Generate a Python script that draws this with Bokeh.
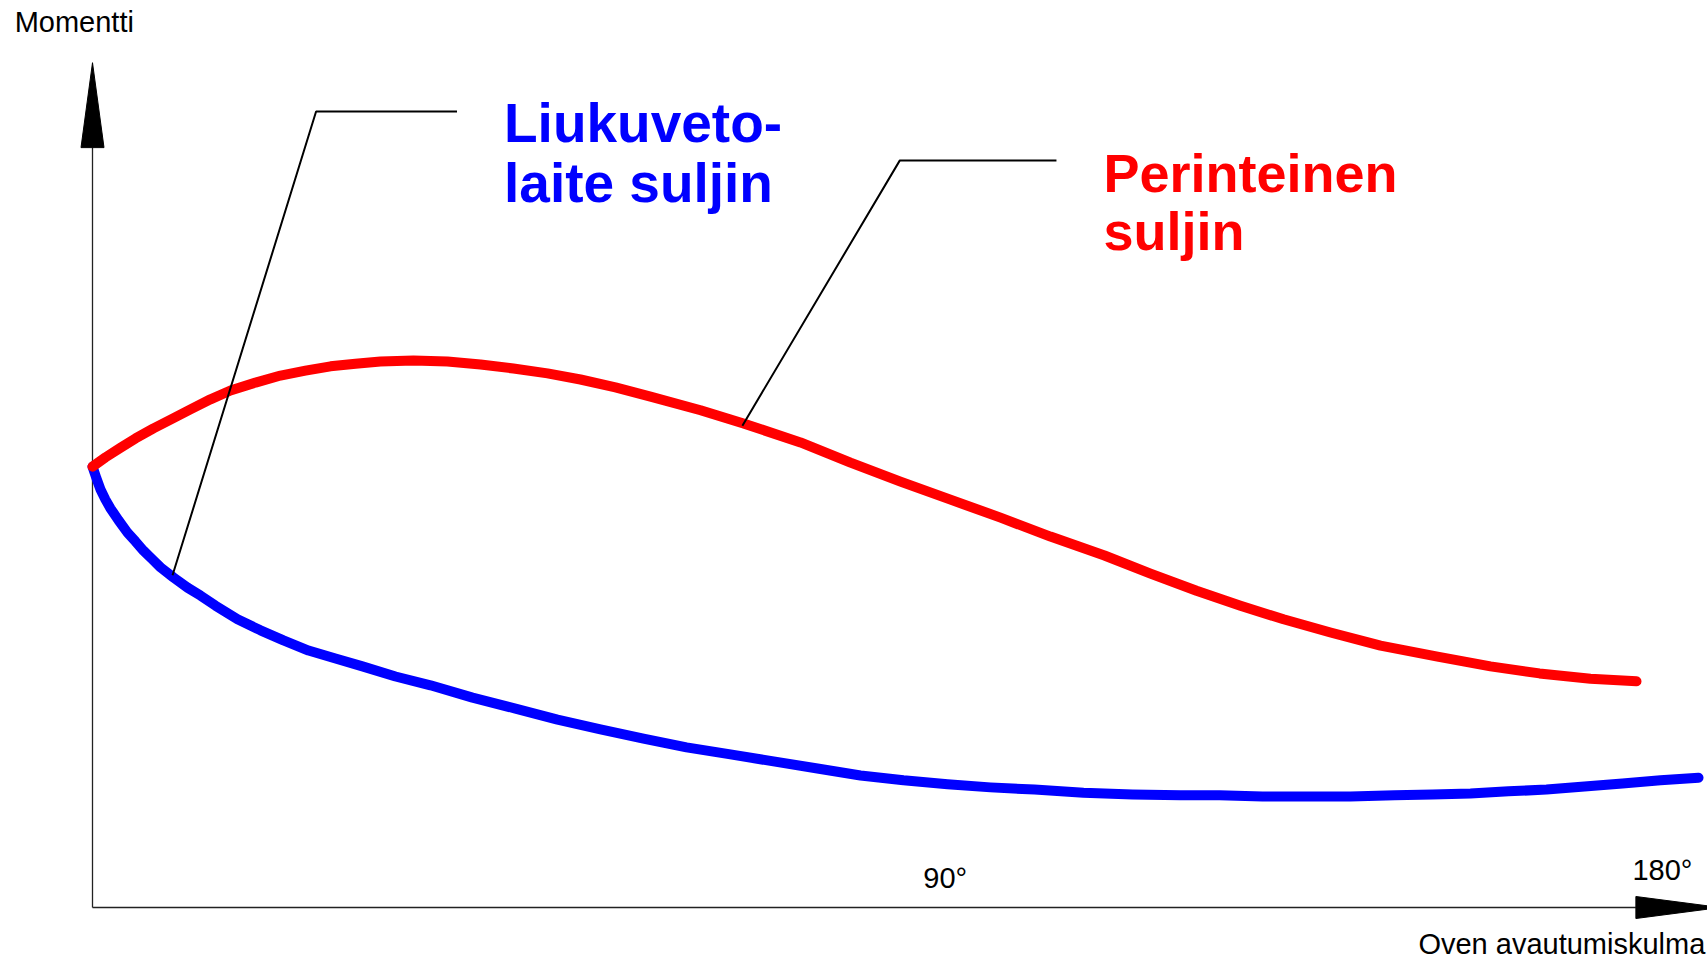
from bokeh.plotting import figure
from bokeh.models import Range1d
from bokeh.core.properties import value
from bokeh.embed import file_html
from bokeh.resources import INLINE

# --- data (x: opening angle in degrees, y: moment, arbitrary units) ---
red_angle = [0.0, 1.49, 3.22, 4.94, 7.01, 9.20, 11.26, 13.56, 15.86, 18.74, 21.61, 24.48,
             27.36, 30.23, 33.10, 36.90, 40.80, 44.60, 48.39, 52.30, 56.09, 60.11, 64.14,
             69.89, 74.83, 81.38, 87.13, 92.87, 98.62, 104.37, 110.11, 116.32, 121.61,
             126.90, 131.95, 136.90, 142.30, 148.05, 154.60, 160.69, 166.32, 172.18,
             177.47]
red_moment = [100.2, 102.3, 104.5, 106.6, 108.9, 111.1, 113.2, 115.5, 117.5, 119.3, 120.9,
              122.0, 123.0, 123.6, 124.1, 124.3, 124.1, 123.4, 122.5, 121.4, 120.0, 118.2,
              116.1, 113.0, 110.0, 105.7, 101.1, 96.8, 92.7, 88.6, 84.3, 80.0, 75.9, 72.0,
              68.6, 65.5, 62.5, 59.5, 57.0, 54.8, 53.2, 52.0, 51.4]

blue_angle = [0.0, 0.46, 0.92, 1.49, 2.07, 2.99, 4.02, 4.94, 5.86, 6.90, 7.82, 9.31, 10.92,
              12.41, 14.14, 16.67, 19.31, 21.95, 24.83, 27.93, 31.03, 34.83, 38.85, 43.68,
              48.62, 53.45, 58.39, 63.33, 68.28, 73.33, 78.28, 83.33, 88.28, 93.22, 98.28,
              103.22, 108.28, 113.91, 119.54, 125.06, 129.54, 134.48, 139.54, 144.60,
              149.66, 154.02, 158.39, 162.76, 167.13, 171.49, 175.86, 180.23, 184.60]
blue_moment = [100.2, 97.5, 95.0, 92.7, 90.7, 88.0, 85.2, 83.2, 81.1, 79.1, 77.3, 75.0,
               72.7, 70.9, 68.6, 65.5, 63.0, 60.7, 58.4, 56.6, 54.8, 52.5, 50.5, 47.7,
               45.2, 42.7, 40.5, 38.4, 36.4, 34.8, 33.2, 31.6, 30.0, 28.9, 28.0, 27.3,
               26.8, 26.1, 25.7, 25.5, 25.5, 25.2, 25.2, 25.2, 25.5, 25.7, 25.9, 26.4,
               26.8, 27.5, 28.2, 28.9, 29.5]

tick_labels = ["90°", "180°"]
tick_x = [95.5, 177.0]
tick_y = [6.8, 8.5]

y_axis_title = "Momentti"
x_axis_title = "Oven avautumiskulma"
blue_label = ["Liukuveto-", "laite suljin"]
red_label = ["Perinteinen", "suljin"]

# leader lines (from curve point to label)
blue_leader_x = [9.2, 25.7, 41.9]
blue_leader_y = [75.5, 180.9, 180.9]
red_leader_x = [74.7, 92.8, 110.8]
red_leader_y = [109.5, 169.8, 169.8]

# --- figure ---
PX_X = 8.7   # pixels per degree
PX_Y = 4.4   # pixels per moment unit
W, H = 1707, 960
x0 = -92 / PX_X
y1 = 907 / PX_Y

p = figure(width=W, height=H, output_backend="svg", toolbar_location=None,
           x_range=Range1d(x0, x0 + W / PX_X), y_range=Range1d(y1 - H / PX_Y, y1),
           x_axis_location=None, y_axis_location=None, min_border=0)
p.grid.visible = False
p.outline_line_color = None
p.background_fill_color = "white"
p.border_fill_color = "white"

FONT = value("Liberation Sans")

# axes with arrow heads
x_end_base, x_tip = 177.4, 187.1
y_end_base, y_tip = 172.7, 192.0
ah_half_x = 11 / PX_Y
ah_half_y = 11.5 / PX_X
p.line([0, 0], [0, y_end_base], line_color="#222222", line_width=1.3)
p.line([0, x_end_base], [0, 0], line_color="#222222", line_width=1.3)
p.patch([-ah_half_y, ah_half_y, 0], [y_end_base, y_end_base, y_tip], color="black")
p.patch([x_end_base, x_end_base, x_tip], [-ah_half_x, ah_half_x, 0], color="black")

# curves
p.line(blue_angle, blue_moment, line_color="#0000ff", line_width=10,
       line_cap="round", line_join="round")
p.line(red_angle, red_moment, line_color="#ff0000", line_width=10,
       line_cap="round", line_join="round")

# leaders
p.line(blue_leader_x, blue_leader_y, line_color="black", line_width=2)
p.line(red_leader_x, red_leader_y, line_color="black", line_width=2)

# labels
p.text(x=[47.3, 47.3], y=[178.3, 164.6], text=blue_label, text_color="#0000ff",
       text_font=FONT, text_font_style="bold", text_font_size="55px",
       text_baseline="alphabetic", text_align="left")
p.text(x=[116.2, 116.2], y=[166.9, 153.7], text=red_label, text_color="#ff0000",
       text_font=FONT, text_font_style="bold", text_font_size="54px",
       text_baseline="alphabetic", text_align="left")

p.text(x=[-8.95], y=[201.2], text=[y_axis_title], text_color="black", text_font=FONT,
       text_font_size="29px", text_baseline="alphabetic", text_align="left")
p.text(x=tick_x, y=tick_y, text=tick_labels, text_color="black", text_font=FONT,
       text_font_size="29px", text_baseline="alphabetic", text_align="left")
p.text(x=[152.4], y=[-8.3], text=[x_axis_title], text_color="black", text_font=FONT,
       text_font_size="29px", text_baseline="alphabetic", text_align="left")

open("out.html", "w").write(file_html(p, INLINE))
